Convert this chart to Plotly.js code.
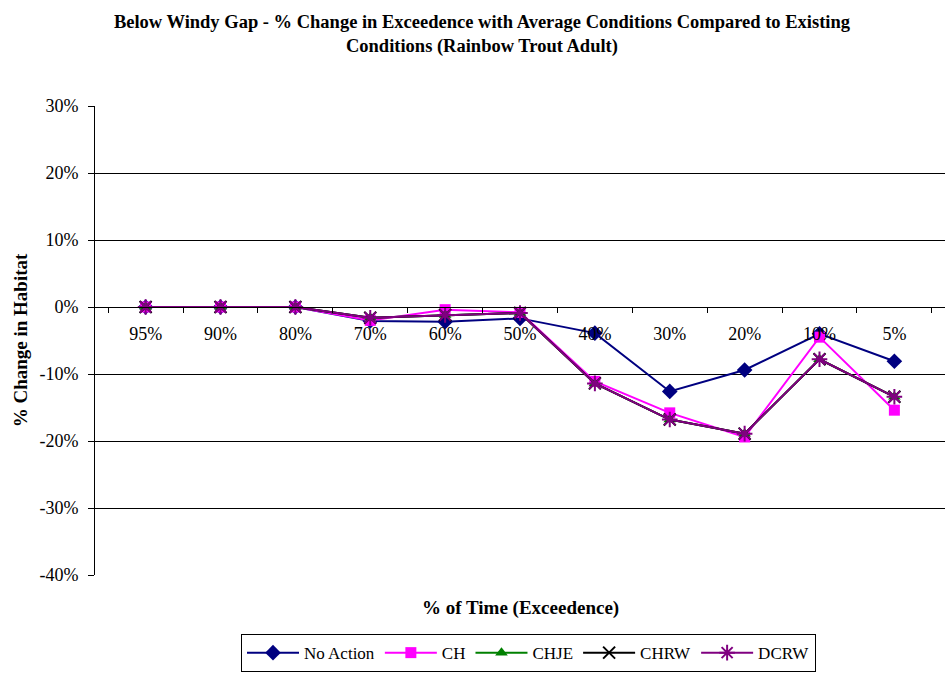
<!DOCTYPE html>
<html>
<head>
<meta charset="utf-8">
<script src="https://cdn.plot.ly/plotly-3.0.1.min.js"></script>
<style>html,body{margin:0;padding:0;background:#fff;}#chart{width:945px;height:675px;}</style>
</head>
<body>
<div id="chart"></div>
<script>
const categories = ["95%", "90%", "80%", "70%", "60%", "50%", "40%", "30%", "20%", "10%", "5%"];
const noAction = [0, 0, 0, -2.1, -2.2, -1.7, -3.9, -12.6, -9.4, -4.0, -8.1];
const ch       = [0, 0, 0, -2.0, -0.4, -0.8, -11.1, -15.8, -19.4, -4.5, -15.4];
const chje     = [0, 0, 0, -1.6, -1.2, -0.9, -11.4, -16.8, -18.9, -7.8, -13.4];
const chrw     = [0, 0, 0, -1.6, -1.2, -0.9, -11.4, -16.8, -18.9, -7.8, -13.4];
const dcrw     = [0, 0, 0, -1.6, -1.2, -0.9, -11.4, -16.8, -18.9, -7.8, -13.4];
const yTickVals = [-40, -30, -20, -10, 0, 10, 20, 30];
const yTickText = ["-40%", "-30%", "-20%", "-10%", "0%", "10%", "20%", "30%"];

const font = "Liberation Serif, Times New Roman, serif";

function tr(name, y, color, symbol, size, mLine) {
  return {
    type: 'scatter', mode: 'lines+markers', name: name,
    x: categories, y: y,
    line: {color: color, width: 2},
    marker: {symbol: symbol, size: size, color: color, line: {color: color, width: mLine}}
  };
}

const data = [
  tr('No Action', noAction, '#000080', 'diamond', 12, 0),
  tr('CH', ch, '#FF00FF', 'square', 11, 0),
  tr('CHJE', chje, '#008000', 'triangle-up', 11, 0),
  tr('CHRW', chrw, '#000000', 'x-thin-open', 12, 2),
  tr('DCRW', dcrw, '#800080', 'asterisk-open', 13, 2)
];

const layout = {
  width: 945, height: 675,
  margin: {l: 95, r: 0, t: 106, b: 100, autoexpand: false},
  paper_bgcolor: '#fff', plot_bgcolor: '#fff',
  font: {family: font, size: 18, color: '#000'},
  title: {
    text: '<b>Below Windy Gap - % Change in Exceedence with Average Conditions Compared to Existing<br>Conditions (Rainbow Trout Adult)</b>',
    font: {family: font, size: 18.5, color: '#000'},
    x: 0.51, xanchor: 'center', yref: 'container', y: 0.958, yanchor: 'top'
  },
  xaxis: {
    type: 'category',
    anchor: 'free', position: 40/70,
    showline: true, linecolor: '#000', linewidth: 1,
    ticks: 'outside', ticklen: 5, tickcolor: '#000',
    tickson: 'boundaries',
    ticklabelstandoff: 10,
    showgrid: false, zeroline: false,
    tickfont: {family: font, size: 18, color: '#000'},
    fixedrange: true
  },
  yaxis: {
    range: [-40, 30],
    tickvals: yTickVals, ticktext: yTickText,
    showline: true, linecolor: '#000', linewidth: 1,
    ticks: 'outside', ticklen: 6, tickcolor: '#000',
    ticklabelstandoff: 6,
    showgrid: true, gridcolor: '#000', gridwidth: 1,
    zeroline: false,
    tickfont: {family: font, size: 18, color: '#000'},
    title: {text: '<b>% Change in Habitat</b>', font: {family: font, size: 19, color: '#000'}, standoff: 6}
  },
  annotations: [{
    text: '<b>% of Time (Exceedence)</b>', xref: 'paper', yref: 'paper',
    x: 0.5, y: -0.043, xanchor: 'center', yanchor: 'top', showarrow: false,
    font: {family: font, size: 19, color: '#000'}
  }],
  legend: {
    orientation: 'h', x: 0.51, xanchor: 'center', y: -0.207, yanchor: 'bottom',
    bordercolor: '#000', borderwidth: 1, bgcolor: '#fff',
    font: {family: font, size: 17, color: '#000'},
    itemwidth: 52, tracegroupgap: 0
  },
  showlegend: true
};

Plotly.newPlot('chart', data, layout, {displayModeBar: false, staticPlot: true});
</script>
</body>
</html>
